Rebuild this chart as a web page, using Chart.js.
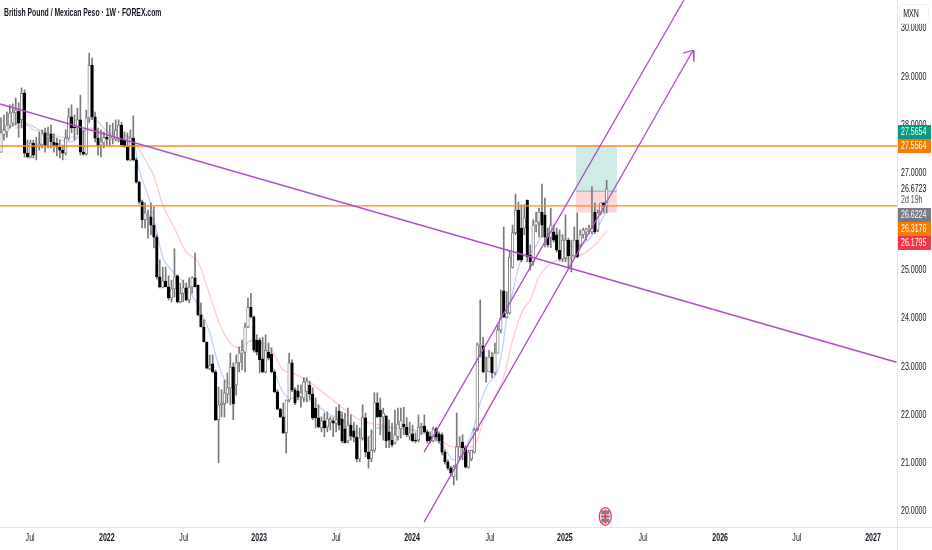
<!DOCTYPE html>
<html>
<head>
<meta charset="utf-8">
<style>
html, body { margin: 0; padding: 0; background: #fff; }
#wrap { width: 932px; height: 550px; }
</style>
<script src="https://cdn.jsdelivr.net/npm/chart.js@4/dist/chart.umd.min.js"></script>
</head>
<body>
<div id="wrap"><canvas id="chart" width="932" height="550"></canvas></div>
<script>
// weekly candles
const opens = [
  27.43,27.79,27.85,27.99,28.03,28.24,28.28,28.10,28.65,27.41,
  27.33,27.62,27.54,27.56,27.58,27.83,27.74,27.81,27.64,27.62,
  27.54,27.47,27.41,27.72,28.16,27.95,27.93,28.10,27.43,27.39,
  28.14,29.23,28.16,27.72,27.58,27.62,27.74,27.70,27.72,27.70,
  27.68,27.99,27.68,27.54,27.27,27.72,27.27,26.81,26.40,26.03,
  26.09,26.09,25.92,25.67,24.85,24.64,24.76,24.64,24.41,24.60,
  24.87,24.33,24.51,24.62,24.37,24.64,24.83,24.68,24.06,23.81,
  23.50,22.94,23.05,22.88,21.89,22.20,22.22,22.42,22.55,22.98,
  22.61,23.07,23.27,23.29,23.81,24.22,24.02,23.54,23.54,23.15,
  22.88,23.29,23.25,22.88,22.47,22.11,21.95,21.62,22.30,23.07,
  22.51,22.49,22.36,22.34,22.47,22.61,22.42,22.13,21.93,21.72,
  21.87,21.74,21.84,21.87,21.82,22.07,21.91,21.70,21.45,21.78,
  21.66,21.53,21.08,21.51,21.93,21.22,21.08,21.26,22.24,22.09,
  21.95,21.97,21.64,21.47,21.41,21.54,21.70,21.80,21.74,21.55,
  21.60,21.47,21.47,21.72,21.76,21.64,21.54,21.45,21.70,21.60,
  21.58,21.22,21.02,20.89,20.71,20.91,21.12,21.43,21.31,20.91,
  21.08,21.22,21.68,23.40,23.42,22.88,22.88,23.19,22.86,23.27,
  23.75,24.56,24.00,24.10,25.05,25.76,26.23,25.86,25.86,26.44,
  25.30,25.16,25.92,25.98,26.19,26.13,25.67,25.67,25.78,25.72,
  25.40,25.22,25.24,25.61,25.28,25.28,25.61,25.51,25.72,25.78,
  25.82,25.78,26.19,25.82,26.17,26.38,26.32
];
const closes = [
  27.83,27.89,27.99,28.24,28.26,28.30,28.03,28.65,27.41,27.33,
  27.62,27.37,27.56,27.60,27.81,27.56,27.76,27.64,27.56,27.54,
  27.47,27.41,27.72,28.16,27.93,27.93,28.10,27.43,27.39,28.14,
  29.23,28.16,27.72,27.56,27.64,27.74,27.70,27.72,27.76,27.89,
  27.99,27.58,27.54,27.27,27.72,27.27,26.81,26.40,26.03,26.17,
  26.13,25.92,25.67,24.85,24.64,24.76,24.64,24.41,24.60,24.85,
  24.33,24.51,24.62,24.37,24.64,24.83,24.64,24.06,23.81,23.50,
  22.96,23.02,22.88,21.89,22.20,22.24,22.45,22.55,22.98,22.22,
  23.07,23.27,23.33,23.81,24.22,24.02,23.33,23.29,23.13,22.88,
  23.33,23.17,22.88,22.47,22.11,21.95,21.62,22.30,23.07,22.51,
  22.24,22.36,22.45,22.67,22.69,22.42,21.93,21.93,21.74,21.87,
  21.72,21.91,21.89,21.82,21.89,21.78,21.45,21.41,21.78,21.55,
  21.53,21.08,21.51,21.93,21.22,21.08,21.26,22.24,21.95,21.95,
  22.03,21.45,21.47,21.37,21.58,21.80,21.87,21.74,21.58,21.62,
  21.45,21.45,21.74,21.76,21.64,21.45,21.45,21.70,21.54,21.45,
  21.22,21.02,20.89,20.79,20.91,21.33,21.33,21.31,20.91,21.22,
  21.26,21.68,23.44,23.44,22.88,22.92,23.19,22.86,23.27,23.75,
  23.99,24.02,24.10,25.26,25.76,26.23,25.20,25.20,26.07,25.26,
  25.16,25.92,26.00,26.19,25.92,25.67,25.51,25.92,25.61,25.40,
  25.22,25.61,25.61,25.28,25.30,25.61,25.26,25.72,25.82,25.84,
  25.86,25.86,25.78,26.17,26.38,26.32,26.67
];
const highs = [
  28.14,28.20,28.26,28.41,28.43,28.55,28.45,28.76,28.72,27.68,
  27.68,27.68,27.74,27.85,27.89,27.93,27.95,27.99,27.81,27.72,
  27.68,27.58,27.89,28.34,28.41,28.20,28.34,28.61,27.89,28.30,
  29.48,29.38,28.26,27.93,27.89,27.85,28.05,27.99,28.03,28.10,
  28.10,28.05,27.85,27.83,27.89,28.18,27.31,26.83,26.44,26.38,
  26.23,26.38,26.30,25.72,25.20,25.05,25.05,24.87,24.78,25.43,
  24.89,24.72,24.78,24.72,24.83,24.85,25.34,24.68,24.31,23.96,
  23.50,23.23,23.23,22.92,22.57,22.51,22.71,22.86,23.27,23.07,
  23.23,23.40,23.54,23.89,24.41,24.51,24.04,23.65,23.58,23.60,
  23.65,23.48,23.38,22.92,22.51,22.13,22.24,22.30,23.27,23.13,
  22.55,22.61,22.61,22.76,22.76,22.69,22.55,22.34,22.20,21.95,
  22.03,22.05,21.95,21.93,22.15,22.20,22.05,22.03,22.13,21.99,
  21.84,21.78,21.72,22.20,22.03,21.54,21.68,22.45,22.45,22.34,
  22.13,21.97,21.89,21.82,22.09,22.13,22.13,22.15,21.93,21.84,
  21.78,21.62,21.99,21.82,21.99,21.68,21.64,21.74,21.74,21.64,
  21.62,21.26,21.06,20.93,20.95,22.03,21.54,21.58,21.35,21.26,
  21.26,21.72,23.48,24.37,23.60,23.19,23.33,23.29,23.48,23.85,
  24.58,25.88,24.54,25.40,25.92,26.56,26.40,26.34,26.34,26.44,
  25.51,26.03,26.19,26.27,26.77,26.48,25.86,26.27,25.92,25.86,
  25.82,25.72,26.13,25.65,25.61,25.88,26.17,25.82,25.86,25.86,
  25.92,26.71,26.38,26.23,26.38,26.38,26.85
];
const lows = [
  27.43,27.68,27.74,27.93,27.97,27.99,27.74,27.93,27.33,27.31,
  27.31,27.31,27.27,27.47,27.52,27.43,27.52,27.52,27.43,27.35,
  27.31,27.27,27.37,27.68,27.83,27.68,27.79,27.37,27.37,27.37,
  28.05,28.10,27.64,27.37,27.33,27.52,27.56,27.56,27.60,27.66,
  27.64,27.54,27.54,27.25,27.25,27.25,26.79,26.36,25.86,25.86,
  25.65,25.72,25.45,24.80,24.62,24.62,24.64,24.37,24.33,24.43,
  24.31,24.31,24.33,24.35,24.31,24.51,24.64,24.04,23.81,23.50,
  22.94,22.92,22.86,21.87,21.00,21.95,21.95,22.24,22.20,21.89,
  22.40,22.88,22.92,22.88,23.79,24.00,23.29,23.23,22.86,22.86,
  22.86,23.13,22.86,22.45,22.09,21.93,21.60,21.20,22.26,22.47,
  22.20,22.30,22.15,22.26,22.26,22.30,21.89,21.72,21.72,21.64,
  21.54,21.64,21.68,21.54,21.64,21.68,21.41,21.41,21.41,21.47,
  21.43,21.02,21.02,21.47,21.12,20.89,21.02,21.22,21.93,21.58,
  21.47,21.31,21.31,21.33,21.39,21.47,21.51,21.58,21.54,21.47,
  21.43,21.41,21.43,21.58,21.62,21.41,21.41,21.43,21.47,21.41,
  21.16,20.97,20.85,20.73,20.54,20.64,21.06,21.06,20.89,20.89,
  21.04,21.20,21.66,23.19,22.86,22.67,22.88,22.76,22.82,23.27,
  23.69,24.00,24.10,24.08,25.03,25.72,25.18,25.16,25.72,25.16,
  24.99,25.09,25.78,25.67,25.67,25.47,25.47,25.45,25.57,25.36,
  25.18,25.16,25.16,25.03,24.95,25.26,25.24,25.45,25.65,25.61,
  25.74,25.74,25.74,25.78,26.13,26.17,26.17
];

// moving averages, sampled along the curves
const slowWeeks = [4.8,9,11,14,21,26,30,37,43,46,50,52,55,58.5,63,67,71,74.5,78,81,85,91.5,96,99,104,114,122,129,138,146,154,160.5,165,171,174,177.5,180,183,188,194.5,199,203,206];
const slowValues = [27.93,27.99,27.89,27.87,27.74,27.74,27.93,27.79,27.74,27.58,27.16,26.94,26.34,25.92,25.36,25.16,24.47,23.85,23.48,23.38,23.52,23.38,22.92,22.86,22.71,22.24,21.89,21.78,21.68,21.60,21.33,21.33,22.03,22.78,23.54,24.16,24.37,24.85,25.16,25.24,25.36,25.57,25.80];
const fastWeeks = [1.4,6.5,10,15,23.5,28.5,31,37,45,47,50.5,53,55,58.5,62,66.5,71,73.5,75,77,80,82.5,85,89,92.5,95,97.5,104,112,118,124.5,128,135,142.5,150.5,154,157,160.5,163,165.5,169,171,172,174,175.5,177,181,184.5,189,194.5,199,203,205.5];
const fastValues = [27.85,28.05,27.99,27.83,27.64,27.89,28.14,27.83,27.68,27.06,26.44,25.76,25.26,24.95,24.74,24.31,23.69,23.13,22.86,22.65,22.92,23.33,23.54,23.44,22.98,22.57,22.36,22.30,21.99,21.82,21.51,21.72,21.72,21.64,21.33,21.06,21.20,21.68,22.24,22.61,22.92,23.54,24.02,24.51,24.93,25.20,25.40,25.72,25.76,25.47,25.57,25.88,26.17];

// drawings
const levels = [27.5564, 26.3176];
const longTrendWeeks = [-0.34, 304.6];
const longTrendPrices = [28.43, 23.08];
const upperChannelWeeks = [143.9, 232.3];
const upperChannelPrices = [21.22, 30.58];
const lowerChannelWeeks = [143.9, 235.4];
const lowerChannelPrices = [19.77, 29.54];
const arrowWeeks = [232, 235.4, 235.7];
const arrowPrices = [29.48, 29.54, 29.30];
const boxWeeks = [195.6, 209.5];
const boxTarget = 27.5654;
const boxEntry = 26.6224;
const boxStop = 26.1795;

// axes
const priceTicks = [20, 21, 22, 23, 24, 25, 27, 28, 29, 30];
const timeTickWeeks = [9.9, 36, 62.2, 87.8, 114, 139.8, 166.3, 191.8, 218.4, 244.6, 270.7, 296.6];
const timeTickLabels = ['Jul', '2022', 'Jul', '2023', 'Jul', '2024', 'Jul', '2025', 'Jul', '2026', 'Jul', '2027'];

// price tags on the right
const tagLabels = ['27.5654', '27.5564', '26.6224', '26.3176', '26.1795'];
const tagColors = ['#089981', '#f57c00', '#787b86', '#f57c00', '#f23645'];
const tagCentres = [132, 146, 215, 229, 243];

const FONT = '"Liberation Sans", sans-serif';
const PURPLE = '#ab4fc6';
const ORANGE = '#fb8c1c';

function pairs(xs, ys) {
  return xs.map((x, i) => ({ x: x, y: ys[i] }));
}

function lineSet(xs, ys, color, width, order) {
  return {
    type: 'line', data: pairs(xs, ys), borderColor: color, borderWidth: width,
    pointRadius: 0, fill: false, order: order
  };
}

const wickData = highs.map((h, i) => ({ x: i, y: [lows[i], h] }));
const bodyData = opens.map((o, i) => ({ x: i, y: [o, closes[i]] }));

// the reference text is horizontally squeezed, so labels are drawn by hand
function squeezedText(ctx, text, x, y, align, squeeze) {
  ctx.save();
  ctx.translate(x, y);
  ctx.scale(squeeze || 0.67, 1);
  ctx.textAlign = align || 'left';
  ctx.textBaseline = 'middle';
  ctx.fillText(text, 0, 0);
  ctx.restore();
}

// everything that lives outside the plot area
const chrome = {
  id: 'chrome',
  afterDraw(chart) {
    const ctx = chart.ctx;
    const area = chart.chartArea;
    ctx.save();

    ctx.strokeStyle = '#e0e3eb';
    ctx.lineWidth = 1;
    ctx.beginPath();
    ctx.moveTo(area.right + 0.5, 0);
    ctx.lineTo(area.right + 0.5, 550);
    ctx.moveTo(0, area.bottom + 0.5);
    ctx.lineTo(932, area.bottom + 0.5);
    ctx.stroke();

    // axis labels
    ctx.fillStyle = '#131722';
    ctx.font = '10.5px ' + FONT;
    priceTicks.forEach(v => {
      squeezedText(ctx, v.toFixed(4), area.right + 4, chart.scales.y.getPixelForValue(v) + 0.5);
    });
    timeTickWeeks.forEach((w, i) => {
      const label = timeTickLabels[i];
      ctx.font = (label === 'Jul' ? '' : 'bold ') + '10.5px ' + FONT;
      squeezedText(ctx, label, chart.scales.x.getPixelForValue(w), 538.5, 'center');
    });

    ctx.font = 'bold 10.5px ' + FONT;
    squeezedText(ctx, 'British Pound / Mexican Peso · 1W · FOREX.com', 4, 13.5, 'left', 0.65);

    // MXN button
    ctx.fillStyle = '#fff';
    ctx.strokeStyle = '#eceef2';
    ctx.beginPath();
    ctx.roundRect(899.5, 4.5, 29, 19, 3);
    ctx.fill();
    ctx.stroke();
    ctx.fillStyle = '#131722';
    ctx.font = '10.5px ' + FONT;
    squeezedText(ctx, 'MXN', 911, 14, 'center');

    tagLabels.forEach((label, i) => {
      ctx.fillStyle = tagColors[i];
      ctx.fillRect(area.right + 1, tagCentres[i] - 7, 33, 14);
      ctx.fillStyle = '#fff';
      squeezedText(ctx, label, area.right + 4, tagCentres[i] + 0.5);
    });
    ctx.fillStyle = '#131722';
    squeezedText(ctx, '26.6723', area.right + 4, 189);
    ctx.fillStyle = '#50535e';
    squeezedText(ctx, '2d 19h', area.right + 4, 200);

    // flag marker near the bottom
    const cx = 605.3, cy = 516.5;
    ctx.fillStyle = '#fff';
    ctx.strokeStyle = '#ee3a45';
    ctx.lineWidth = 1.3;
    ctx.beginPath();
    ctx.ellipse(cx, cy, 6, 8.8, 0, 0, Math.PI * 2);
    ctx.fill();
    ctx.stroke();
    ctx.fillStyle = '#3f8fa8';
    ctx.fillRect(cx - 4, cy - 6, 3, 4);
    ctx.fillRect(cx + 1, cy - 6, 3, 4);
    ctx.fillRect(cx - 4, cy + 2, 3, 4);
    ctx.fillRect(cx + 1, cy + 2, 3, 4);
    ctx.fillStyle = '#d9434e';
    ctx.fillRect(cx - 4.5, cy - 1, 9, 2);
    ctx.fillRect(cx - 1, cy - 7, 2, 14);
    ctx.restore();
  }
};

new Chart(document.getElementById('chart'), {
  type: 'bar',
  data: {
    datasets: [
      {
        type: 'line', data: pairs(boxWeeks, [boxTarget, boxTarget]),
        borderWidth: 0, pointRadius: 0, backgroundColor: 'rgba(8,153,129,0.2)',
        fill: { value: boxEntry }, order: 9
      },
      {
        type: 'line', data: pairs(boxWeeks, [boxStop, boxStop]),
        borderWidth: 0, pointRadius: 0, backgroundColor: 'rgba(242,54,69,0.2)',
        fill: { value: boxEntry }, order: 8
      },
      lineSet(boxWeeks, [boxEntry, boxEntry], 'rgba(120,123,134,0.6)', 1, 7),
      Object.assign(lineSet(slowWeeks, slowValues, '#ffcaca', 1.3, 6), { cubicInterpolationMode: 'monotone' }),
      Object.assign(lineSet(fastWeeks, fastValues, '#bdd5fb', 1.3, 5), { cubicInterpolationMode: 'monotone' }),
      {
        data: wickData, backgroundColor: '#7a7a7a', barThickness: 1, order: 4
      },
      {
        data: bodyData,
        backgroundColor: opens.map((o, i) => closes[i] >= o ? '#ffffff' : '#000000'),
        borderColor: opens.map((o, i) => closes[i] >= o ? '#666666' : '#000000'),
        borderWidth: 0.8, borderSkipped: false, barThickness: 2.6, order: 3
      },
      lineSet([-0.34, 304.76], [levels[0], levels[0]], ORANGE, 1.4, 2),
      lineSet([-0.34, 304.76], [levels[1], levels[1]], ORANGE, 1.4, 2),
      lineSet(longTrendWeeks, longTrendPrices, PURPLE, 1.5, 1),
      lineSet(upperChannelWeeks, upperChannelPrices, PURPLE, 1.3, 1),
      lineSet(lowerChannelWeeks, lowerChannelPrices, PURPLE, 1.3, 1),
      lineSet(arrowWeeks, arrowPrices, PURPLE, 1.3, 1)
    ]
  },
  options: {
    responsive: false,
    animation: false,
    events: [],
    datasets: { bar: { grouped: false } },
    layout: { padding: 0 },
    plugins: { legend: { display: false }, tooltip: { enabled: false } },
    scales: {
      x: {
        type: 'linear',
        min: -0.34,
        max: 304.76,
        offset: false,
        border: { display: false },
        grid: { display: false, offset: false },
        ticks: { display: false },
        afterFit(scale) {
          scale.height = 23;
          scale.paddingLeft = 0;
          scale.paddingRight = 0;
        }
      },
      y: {
        position: 'right',
        min: 19.67,
        max: 30.58,
        border: { display: false },
        grid: { display: false },
        ticks: { display: false },
        afterFit(scale) {
          scale.width = 35;
          scale.paddingTop = 0;
          scale.paddingBottom = 0;
        }
      }
    }
  },
  plugins: [chrome]
});
</script>
</body>
</html>
